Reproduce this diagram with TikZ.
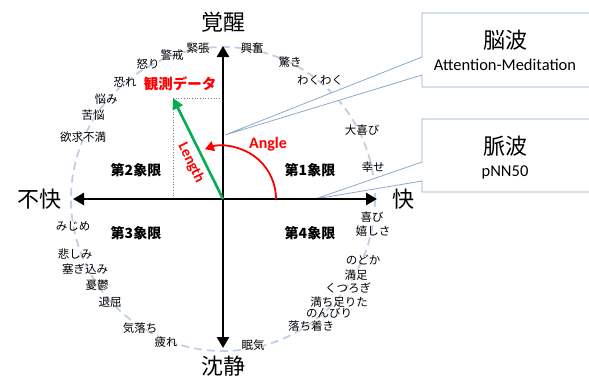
\documentclass[tikz,border=0pt]{standalone}
\usepackage{fontspec}
\newfontfamily\jp{Noto Sans CJK JP}
\newfontfamily\lat{Carlito}
\usetikzlibrary{arrows.meta}
\definecolor{circ}{RGB}{192,208,226}
\definecolor{cbox}{RGB}{140,170,205}
\definecolor{grn}{RGB}{0,176,80}
\definecolor{dotc}{RGB}{128,128,128}
\begin{document}
\begin{tikzpicture}[x=1pt,y=-1pt,
  axis/.style={line width=2.6pt, {Triangle[length=11pt,width=12pt]}-{Triangle[length=11pt,width=12pt]}},
  big/.style={font=\jp\fontsize{22}{22}\selectfont, inner sep=0pt},
  emo/.style={font=\jp\fontsize{11.5}{12}\selectfont, inner sep=0pt},
  quad/.style={font=\jp\bfseries\fontsize{14}{14}\selectfont, inner sep=0pt},
  lab/.style={font=\lat\bfseries\fontsize{16}{16}\selectfont, text=red, inner sep=0pt},
  callout/.style={draw=cbox, line width=0.8pt, fill=white},
  btitle/.style={font=\jp\fontsize{22}{22}\selectfont, inner sep=0pt},
  bsub/.style={font=\lat\fontsize{16.5}{17}\selectfont, inner sep=0pt},
  dotln/.style={draw=dotc, line width=0.7pt, dotted}
]
\useasboundingbox (0,0) rectangle (589,378);
\clip (0,0) rectangle (589,378);

% coordinates
\coordinate (O) at (223,199);
\coordinate (N) at (223,46);
\coordinate (S) at (223,348);
\coordinate (W) at (73,199);
\coordinate (E) at (377,199);
\coordinate (D) at (173,98);
\coordinate (DX) at (223,98);
\coordinate (DY) at (173,199);
\coordinate (P1) at (225,135);
\coordinate (P2) at (315,199);

% dashed circle
\draw[circ, line width=1.8pt, dash pattern=on 8pt off 5pt] (O) circle[radius=152];

% callout 1
\draw[callout] (600,13) -- (422,13) -- (422,57) -- (P1) -- (422,75) -- (422,87) -- (600,87);
\node[btitle] (bw) at (505,40) {脳波};
\node[bsub] (bws) at (505,65) {Attention-Meditation};
% callout 2
\draw[callout] (600,119) -- (422,119) -- (422,162) -- (P2) -- (422,181) -- (422,192) -- (600,192);
\node[btitle] (mw) at (505,146) {脈波};
\node[bsub] (mws) at (505,172) {pNN50};

% dotted guide lines
\draw[dotln] (D) -- (DX);
\draw[dotln] (D) -- (DY);

% axes
\draw[axis] (S) -- (N);
\draw[axis] (W) -- (E);

% angle arc
\draw[red, line width=1.8pt, -{Triangle[length=9pt,width=10pt]}] (276,199) arc[start angle=0, end angle=110, radius=53pt];
\node[lab] (ang) at (268,144) {Angle};

% green vector
\draw[grn, line width=2.6pt, -{Triangle[length=11pt,width=11pt]}] (O) -- (D);
\node[lab, rotate=-64, font=\lat\bfseries\fontsize{15}{15}\selectfont] (len) at (191,163) {Length};
\node[font=\jp\bfseries\fontsize{14.5}{15}\selectfont, text=red, inner sep=0pt] (obs) at (180,84) {観測データ};

% axis labels
\node[big] (top) at (223,22) {覚醒};
\node[big] (bot) at (223,366) {沈静};
\node[big] (lft) at (39,199) {不快};
\node[big] (rgt) at (403,199) {快};

% quadrants
\node[quad] (q2) at (136,170) {第2象限};
\node[quad] (q1) at (310,170) {第1象限};
\node[quad] (q3) at (136,233) {第3象限};
\node[quad] (q4) at (310,233) {第4象限};

% emotion words
\node[emo] (e1) at (198,48) {緊張};
\node[emo] (e2) at (252,48) {興奮};
\node[emo] (e3) at (172,55) {警戒};
\node[emo] (e4) at (148,64) {怒り};
\node[emo] (e5) at (125,82) {恐れ};
\node[emo] (e6) at (106,99) {悩み};
\node[emo] (e7) at (93,115) {苦悩};
\node[emo] (e8) at (83,137) {欲求不満};
\node[emo] (e9) at (290,62) {驚き};
\node[emo] (e10) at (320,80) {わくわく};
\node[emo] (e11) at (362,130) {大喜び};
\node[emo] (e12) at (373,167) {幸せ};
\node[emo] (e13) at (372,217) {喜び};
\node[emo] (e14) at (373,231) {嬉しさ};
\node[emo] (e15) at (363,260) {のどか};
\node[emo] (e16) at (356,275) {満足};
\node[emo] (e17) at (348,288) {くつろぎ};
\node[emo] (e18) at (339,302) {満ち足りた};
\node[emo] (e19) at (329,313) {のんびり};
\node[emo] (e20) at (311,326) {落ち着き};
\node[emo] (e21) at (253,345) {眠気};
\node[emo] (e22) at (166,342) {疲れ};
\node[emo] (e23) at (140,328) {気落ち};
\node[emo] (e24) at (110,302) {退屈};
\node[emo] (e25) at (97,285) {憂鬱};
\node[emo] (e26) at (85,269) {塞ぎ込み};
\node[emo] (e27) at (75,254) {悲しみ};
\node[emo] (e28) at (73,226) {みじめ};
\end{tikzpicture}
\end{document}
